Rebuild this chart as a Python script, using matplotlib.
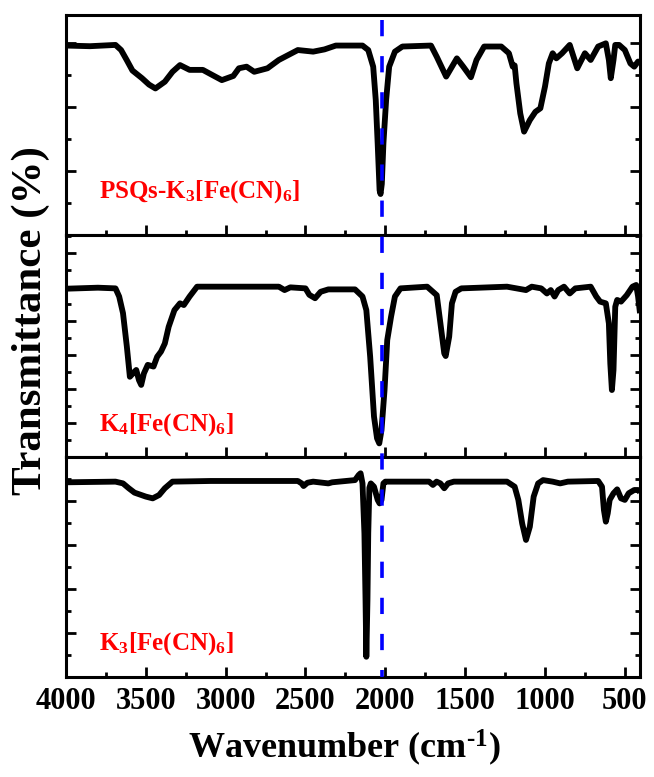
import numpy as np
import matplotlib
matplotlib.use("Agg")
import matplotlib.pyplot as plt
from matplotlib.lines import Line2D
from matplotlib.ticker import MultipleLocator

plt.rcParams['font.family'] = ['Liberation Serif', 'DejaVu Serif']
plt.rcParams['mathtext.fontset'] = 'custom'
plt.rcParams['mathtext.rm'] = 'Liberation Serif:bold'
plt.rcParams['mathtext.it'] = 'Liberation Serif:bold'
plt.rcParams['mathtext.bf'] = 'Liberation Serif:bold'

# ---- FTIR spectra (wavenumber in cm^-1, transmittance in arbitrary offset units) ----
wn_psqs = [4000, 3850, 3690, 3655, 3620, 3584, 3524, 3480, 3440, 3381, 3333, 3286, 3226, 3143,
           3095, 3024, 2952, 2917, 2869, 2821, 2738, 2667, 2548, 2452, 2381, 2310, 2143, 2107,
           2076, 2060, 2048, 2036, 2030, 2022, 2012, 1995, 1976, 1940, 1893, 1714, 1678, 1619,
           1552, 1512, 1464, 1429, 1381, 1333, 1274, 1226, 1202, 1190, 1179, 1155, 1131, 1095,
           1060, 1029, 1000, 976, 952, 929, 893, 845, 798, 750, 714, 667, 619, 600, 588, 571,
           560, 536, 500, 465, 441, 417, 405]
t_psqs = [59.2, 59.0, 59.4, 57.8, 54.7, 51.4, 49.0, 47.0, 45.8, 47.9, 51.0, 53.1, 51.6, 51.6,
          50.3, 48.4, 49.7, 52.1, 52.6, 51.0, 52.1, 54.7, 57.8, 57.3, 58.0, 59.2, 59.2, 57.8,
          52.6, 42.2, 28.6, 14.0, 12.8, 16.0, 28.6, 42.2, 52.6, 57.3, 58.9, 59.2, 55.7, 49.5,
          55.2, 52.6, 49.3, 54.7, 58.9, 58.9, 58.9, 56.8, 52.6, 53.0, 47.4, 38.0, 32.3, 35.9,
          38.5, 39.6, 46.4, 53.6, 56.8, 55.2, 56.8, 59.4, 52.1, 56.8, 54.7, 58.9, 59.9, 54.7, 49.0, 54.7,
          59.4, 59.4, 57.8, 53.6, 52.6, 54.2, 54.0]

wn_k4 = [4000, 3800, 3690, 3667, 3643, 3619, 3600, 3571, 3560, 3543, 3529, 3512, 3488, 3452,
         3429, 3405, 3381, 3357, 3321, 3286, 3262, 3226, 3179, 2667, 2631, 2595, 2500, 2476,
         2440, 2405, 2357, 2190, 2143, 2119, 2095, 2071, 2052, 2038, 2024, 2005, 1988, 1964,
         1940, 1905, 1738, 1702, 1678, 1655, 1631, 1622, 1600, 1583, 1560, 1524, 1238, 1119,
         1083, 1024, 988, 964, 940, 917, 881, 845, 810, 714, 679, 655, 619, 600, 591, 581,
         571, 560, 548, 524, 488, 452, 429, 417, 405]
t_k4 = [49.5, 49.8, 49.6, 47.2, 42.3, 32.5, 23.6, 25.1, 25.6, 22.6, 21.2, 24.6, 27.1, 26.6,
        29.5, 31.0, 33.4, 38.3, 43.2, 45.2, 44.7, 47.2, 50.1, 50.1, 49.1, 49.9, 49.6, 47.7,
        46.7, 48.6, 49.3, 49.3, 47.2, 43.2, 29.5, 11.9, 5.5, 4.0, 7.9, 19.7, 34.4, 41.3,
        47.2, 49.6, 50.1, 48.6, 47.6, 39.3, 30.5, 29.7, 35.4, 45.2, 48.6, 49.6, 50.1, 49.1,
        50.1, 49.6, 48.1, 49.1, 47.2, 49.1, 50.1, 48.1, 49.6, 50.1, 47.2, 45.7, 45.2, 39.3, 27.5, 19.7,
        25.6, 44.2, 46.2, 45.7, 47.6, 50.1, 50.6, 47.2, 42.3]

wn_k3 = [4000, 3690, 3643, 3607, 3571, 3500, 3457, 3417, 3381, 3333, 3095, 2548, 2524, 2512,
         2488, 2452, 2357, 2333, 2190, 2167, 2155, 2143, 2131, 2124, 2119, 2112, 2107, 2100,
         2091, 2071, 2048, 2036, 2024, 2012, 2000, 1726, 1702, 1679, 1655, 1631, 1607, 1571,
         1238, 1190, 1167, 1143, 1119, 1095, 1071, 1043, 1012, 952, 905, 857, 667, 643, 631,
         619, 607, 595, 571, 548, 524, 500, 476, 441, 417, 405]
t_k3 = [88.5, 88.8, 88.0, 85.8, 83.8, 82.0, 81.2, 82.7, 85.8, 88.8, 89.1, 89.1, 88.0, 86.8,
        88.3, 88.8, 88.0, 88.5, 89.5, 91.8, 92.6, 88.0, 65.3, 35.0, 9.2, 35.0, 65.3, 86.0,
        88.0, 86.5, 80.5, 78.9, 80.5, 88.0, 88.8, 88.8, 87.3, 88.8, 88.0, 85.8, 88.0, 88.8,
        88.8, 86.5, 80.5, 69.8, 62.3, 68.3, 82.0, 88.0, 89.5, 88.8, 88.0, 88.8, 89.1, 86.5, 75.9,
        70.6, 74.4, 80.5, 83.5, 85.3, 81.2, 80.5, 83.5, 85.0, 85.0, 84.0]

labels = [r'PSQs-K$_3$[Fe(CN)$_6$]', r'K$_4$[Fe(CN)$_6$]', r'K$_3$[Fe(CN)$_6$]']
cn_band = 2020            # marker for the cyanide stretching region
x_ticks = [4000, 3500, 3000, 2500, 2000, 1500, 1000, 500]

spectra = [(wn_psqs, t_psqs), (wn_k4, t_k4), (wn_k3, t_k3)]
ylims = [(0, 68.75), (0, 65.3), (0, 100)]
y_major = [20, 10, 20]
y_minor = [10, 5, 10]
label_y = [0.17, 0.12, 0.123]

fig = plt.figure(figsize=(6.54, 7.77), dpi=100)
W, H = 654, 777
left, right = 66 / W, 640 / W
tops = [15, 235, 457]
bottoms = [235, 457, 677]
axes = []
for i in range(3):
    ax = fig.add_axes([left, 1 - bottoms[i] / H, right - left, (bottoms[i] - tops[i]) / H])
    wn, t = spectra[i]
    ax.plot(wn, t, color='black', lw=4.2, solid_joinstyle='round', solid_capstyle='butt')
    ax.set_xlim(4000, 405)
    ax.set_ylim(*ylims[i])
    ax.xaxis.set_major_locator(MultipleLocator(500))
    ax.xaxis.set_minor_locator(MultipleLocator(250))
    ax.yaxis.set_major_locator(MultipleLocator(y_major[i]))
    ax.yaxis.set_minor_locator(MultipleLocator(y_minor[i]))
    ax.tick_params(which='both', direction='in', bottom=True, top=False, left=True, right=True,
                   width=2, labelleft=False)
    ax.tick_params(which='major', length=7)
    ax.tick_params(which='minor', length=3.5)
    for s in ax.spines.values():
        s.set_linewidth(2.2)
    ax.text(0.058, label_y[i], labels[i], transform=ax.transAxes, color='#ff0000',
            fontsize=18, fontweight='bold', va='baseline', ha='left')
    if i < 2:
        ax.tick_params(labelbottom=False)
    else:
        ax.set_xticks(x_ticks)
        ax.set_xticklabels([str(v) for v in x_ticks])
        ax.tick_params(axis='x', which='major', pad=7, labelsize=22)
        for lab in ax.get_xticklabels():
            lab.set_fontweight('bold')
    axes.append(ax)

# dashed marker running through all three panels
xf = fig.transFigure.inverted().transform(axes[2].transData.transform((cn_band, 0)))[0]
fig.add_artist(Line2D([xf, xf], [1 - 20 / H, 1 - 677 / H], transform=fig.transFigure,
                      color='#0000ff', lw=2.6, linestyle=(0, (4.5, 5.5)), zorder=5))

fig.text(344 / W, 1 - 758 / H, 'Wavenumber (cm$^{\\mathbf{\u2010 1}}$)', fontsize=26,
         fontweight='bold', ha='center', va='baseline')
fig.text(31 / W, 1 - 321 / H, 'Transmittance (%)', rotation=90, fontsize=31,
         fontweight='bold', ha='center', va='center')

fig.savefig('out.png', dpi=100)
